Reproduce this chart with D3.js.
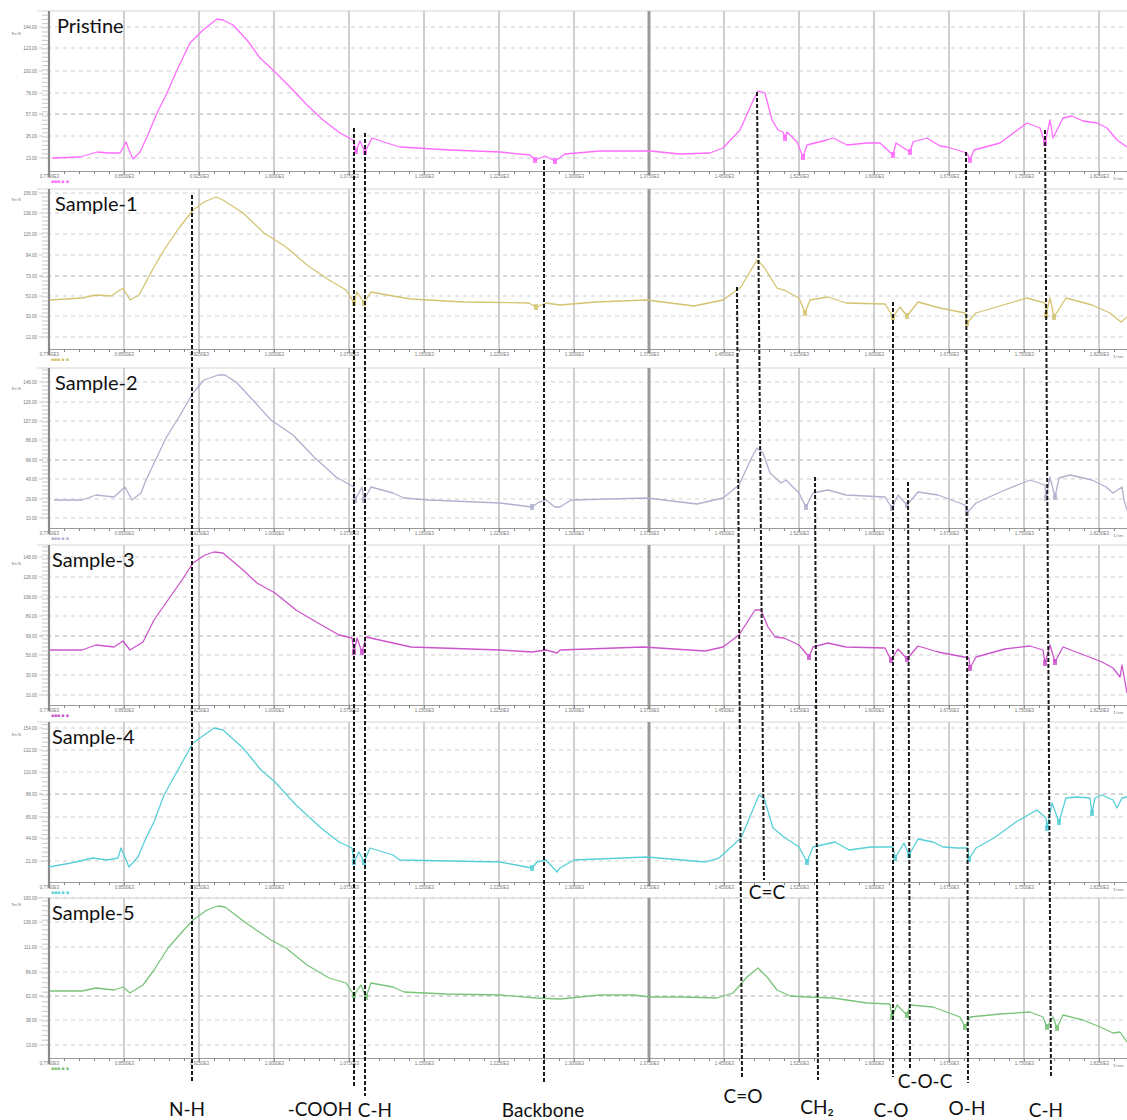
<!DOCTYPE html>
<html>
<head>
<meta charset="utf-8">
<script src="https://cdn.jsdelivr.net/npm/d3@7/dist/d3.min.js"></script>
<style>
  body { margin: 0; background: #fff; }
  svg { display: block; }
</style>
</head>
<body>
<div id="chart"></div>
<script>
// spectra: [channel, signal]
const sampleNames = ['Pristine', 'Sample-1', 'Sample-2', 'Sample-3', 'Sample-4', 'Sample-5'];

const pristine = [[3,13],[31,14],[48,19],[61,18],[71,18],[77,29],[80,21],[84,12],[91,19],[98,34],[108,58],[118,78],[128,101],[141,128],[154,141],[168,152],[174,151],[184,146],[198,131],[211,113],[224,101],[241,84],[258,66],[274,51],[291,38],[304,31],[307,20],[311,30],[316,19],[323,33],[338,28],[351,24],[401,21],[451,19],[481,16],[486,11],[496,15],[506,10],[516,17],[551,20],[601,20],[631,17],[661,18],[674,23],[691,41],[703,68],[709,80],[716,78],[723,51],[729,41],[734,39],[736,33],[738,39],[748,29],[754,14],[758,26],[778,31],[784,33],[798,26],[818,28],[831,28],[844,16],[847,28],[861,19],[864,29],[878,33],[891,25],[898,24],[918,18],[921,11],[925,21],[951,28],[978,48],[991,43],[996,28],[1001,51],[1004,33],[1014,53],[1023,55],[1034,50],[1048,48],[1058,43],[1068,31],[1078,24]];

const sample1 = [[1,49],[33,51],[47,54],[62,53],[74,61],[81,49],[90,54],[105,82],[115,99],[130,121],[144,139],[155,147],[167,152],[174,149],[194,136],[215,116],[237,102],[258,84],[280,69],[297,59],[305,46],[308,57],[315,46],[322,57],[344,53],[362,50],[415,47],[480,46],[487,42],[497,46],[511,44],[547,47],[598,49],[645,43],[674,49],[692,62],[708,89],[715,82],[728,61],[735,59],[750,51],[756,36],[761,49],[779,52],[797,46],[836,45],[844,32],[851,42],[858,33],[869,47],[891,41],[916,36],[918,26],[927,36],[978,51],[996,46],[997,34],[1001,51],[1005,32],[1017,51],[1043,44],[1061,36],[1072,27],[1078,32]];

const sample2 = [[5,28],[33,28],[47,33],[65,31],[76,41],[83,28],[92,35],[97,48],[108,71],[117,90],[130,111],[144,135],[155,148],[169,153],[176,153],[187,146],[201,131],[222,108],[244,93],[265,71],[287,51],[305,41],[306,28],[313,41],[315,28],[322,41],[344,35],[355,30],[380,28],[451,25],[483,21],[490,26],[497,28],[506,21],[511,21],[522,28],[598,30],[648,24],[674,30],[690,43],[703,71],[708,80],[714,75],[721,55],[732,45],[737,48],[750,35],[757,21],[764,35],[779,38],[797,33],[836,31],[843,20],[849,33],[858,23],[869,36],[889,33],[916,23],[918,15],[927,25],[956,38],[981,48],[996,43],[997,30],[1001,51],[1006,31],[1010,50],[1021,53],[1043,48],[1057,41],[1064,35],[1073,41],[1075,28],[1078,18]];

const sample3 = [[1,55],[33,55],[47,60],[65,58],[74,64],[81,55],[94,63],[105,85],[119,105],[133,125],[144,142],[156,150],[165,153],[174,152],[194,135],[208,122],[226,112],[247,95],[269,82],[290,70],[303,67],[305,53],[308,67],[313,53],[317,68],[344,62],[362,58],[451,55],[483,53],[497,55],[508,52],[511,55],[594,58],[656,54],[674,58],[690,70],[706,95],[712,95],[719,78],[726,68],[735,67],[750,60],[760,48],[764,58],[779,62],[797,58],[836,57],[842,45],[849,56],[858,46],[869,59],[889,53],[920,47],[921,37],[927,48],[956,56],[981,59],[994,55],[996,42],[1001,60],[1006,43],[1014,58],[1035,50],[1053,43],[1064,37],[1071,28],[1073,40],[1078,12]];

const sample4 = [[0,15],[22,19],[44,24],[58,22],[69,24],[72,34],[80,15],[89,25],[97,44],[105,60],[115,87],[130,114],[144,139],[158,149],[165,154],[174,152],[194,134],[212,112],[226,100],[247,77],[272,54],[290,40],[303,34],[305,20],[310,30],[315,20],[321,34],[344,27],[351,22],[451,20],[483,14],[488,20],[497,22],[508,10],[511,14],[525,22],[598,25],[656,20],[670,24],[692,44],[710,87],[715,84],[724,54],[735,45],[750,35],[758,20],[764,35],[786,40],[800,32],[822,35],[844,35],[846,24],[855,39],[860,27],[869,43],[884,40],[894,35],[909,34],[919,34],[920,23],[927,34],[945,44],[967,60],[988,72],[997,64],[998,54],[1003,79],[1010,60],[1017,84],[1028,85],[1041,84],[1043,69],[1046,84],[1053,87],[1064,82],[1068,74],[1073,84],[1078,85]];

const sample5 = [[1,67],[33,67],[47,70],[65,68],[74,71],[81,65],[94,73],[105,88],[119,110],[133,126],[144,138],[158,148],[169,152],[176,151],[197,135],[222,118],[237,110],[258,93],[280,80],[297,75],[305,63],[312,73],[317,61],[322,75],[344,71],[355,66],[397,64],[451,63],[487,60],[511,59],[551,63],[584,63],[601,61],[634,61],[668,60],[684,65],[698,81],[709,90],[718,81],[728,68],[741,62],[758,61],[784,60],[818,55],[841,54],[843,41],[848,53],[858,43],[861,53],[884,51],[911,41],[916,31],[921,41],[951,44],[981,46],[994,41],[998,31],[1004,41],[1008,30],[1014,43],[1034,38],[1051,31],[1064,25],[1071,26],[1078,16]];

const spectra = [pristine, sample1, sample2, sample3, sample4, sample5];

// peak-pick markers (channel)
const pristineMarks = [307, 316, 486, 506, 736, 754, 844, 861, 921, 996];
const sample1Marks = [305, 315, 487, 756, 844, 858, 918, 997, 1005];
const sample2Marks = [306, 315, 483, 757, 843, 858, 918, 997, 1006];
const sample3Marks = [305, 313, 760, 842, 858, 921, 996, 1006];
const sample4Marks = [305, 315, 483, 758, 846, 860, 920, 998, 1010, 1043];
const sample5Marks = [305, 317, 843, 858, 916, 998, 1008];
const marks = [pristineMarks, sample1Marks, sample2Marks, sample3Marks, sample4Marks, sample5Marks];

// horizontal grid values per panel
const pristineGrid = [144, 123, 100, 78, 57, 35, 13];
const sample1Grid = [156, 136, 115, 94, 73, 53, 33, 12];
const sample2Grid = [146, 126, 107, 88, 68, 49, 29, 10];
const sample3Grid = [148, 128, 108, 89, 69, 50, 30, 10];
const sample4Grid = [154, 132, 110, 88, 65, 44, 21];
const sample5Grid = [160, 136, 111, 86, 62, 38, 13];
const grids = [pristineGrid, sample1Grid, sample2Grid, sample3Grid, sample4Grid, sample5Grid];
const zeroLines = [57, 73, 68, 69, 88, 62];

const xTicks = d3.range(0, 1078, 75);

// band assignments: label, channel top/bottom, panel where line starts + signal, end below last panel
const bandLabels = ['N-H', '-COOH', 'C-H', 'Backbone', 'C=O', 'C=C', 'CH₂', 'C-O', 'C-O-C', 'O-H', 'C-H'];
const bandTopX = [143, 305, 316, 495, 688, 708, 766, 844, 859, 917, 996];
const bandBottomX = [143, 305, 316, 495, 693, 715, 769, 844, 861, 919, 1002];
const bandStartPanel = [1, 0, 0, 0, 1, 0, 2, 1, 2, 0, 0];
const bandStartValue = [154, 43, 38, 11, 62, 79, 51, 47, 46, 19, 41];
const bandEndPanel = [5, 5, 5, 5, 5, 4, 5, 5, 5, 5, 5];
const bandEndValue = [-24, -30, -38, -25, -20, 2, -22, -19, -12, -25, -20];
const bandLabelX = [138, 271, 326, 494, 694, 718, 768, 842, 876, 918, 997];
const bandLabelValue = [-58, -58, -59, -59, -45, -17, -56, -59, -30, -57, -59];

// ---- layout & style
const W = 1127, H = 1120;
const colors = ['#ff6bff', '#d4c472', '#b0b0cf', '#cc55cc', '#58cfd8', '#7ac47a'];
const axisY = [171, 349, 528, 705, 882, 1058];
const panelH = 160;
const left = 49;
const font = 'Lato, "Open Sans", sans-serif';

const x = d3.scaleLinear().domain([0, 1078]).range([left, W]);
const yFor = i => d3.scaleLinear().domain([0, panelH]).range([axisY[i], axisY[i] - panelH]);

const svg = d3.select('#chart').append('svg')
  .attr('width', W).attr('height', H)
  .style('font-family', font);

svg.append('rect').attr('width', W).attr('height', H).attr('fill', '#fff');

function valueAt(data, xv) {
  const i = d3.bisector(d => d[0]).left(data, xv);
  if (i <= 0) return data[0][1];
  if (i >= data.length) return data[data.length - 1][1];
  const a = data[i - 1], b = data[i];
  const t = (xv - a[0]) / (b[0] - a[0] || 1);
  return a[1] + t * (b[1] - a[1]);
}

spectra.forEach((data, i) => {
  const y = yFor(i);
  const g = svg.append('g').attr('class', 'panel');
  const top = y(panelH);

  // top border
  g.append('line').attr('x1', left - 12).attr('x2', W)
    .attr('y1', top).attr('y2', top)
    .attr('stroke', '#d6d6d6').attr('stroke-width', 1.2);

  // horizontal dashed grid
  g.selectAll('.hgrid').data(grids[i]).enter().append('line')
    .attr('x1', left - 10).attr('x2', W)
    .attr('y1', d => y(d)).attr('y2', d => y(d))
    .attr('stroke', d => d === zeroLines[i] ? '#a8a8a8' : '#cfcfcf')
    .attr('stroke-width', 1)
    .attr('stroke-dasharray', '4,4');

  // vertical grid
  g.selectAll('.vgrid').data(xTicks.slice(1)).enter().append('line')
    .attr('x1', d => x(d)).attr('x2', d => x(d))
    .attr('y1', top).attr('y2', y(0) + 4)
    .attr('stroke', (d, k) => k === 7 ? '#9a9a9a' : '#c4c4c4')
    .attr('stroke-width', (d, k) => k === 7 ? 3 : 1.6);

  // bottom axis
  const xAxis = d3.axisBottom(x)
    .tickValues(d3.range(0, 1078, 15))
    .tickSize(3)
    .tickFormat(d => d % 75 === 0 ? d3.format('.4f')(d / 1000 + 0.775) + 'E3' : '');
  const ax = g.append('g').attr('transform', `translate(0,${y(0)})`).call(xAxis);
  ax.select('.domain').attr('stroke', '#9a9a9a').attr('stroke-width', 1.2);
  ax.selectAll('.tick line').attr('stroke', '#888');
  ax.selectAll('.tick text').attr('font-size', 4.5).attr('fill', '#777').attr('dy', '0.3em');

  // left axis
  const yAxis = d3.axisLeft(y)
    .tickValues(grids[i])
    .tickSize(0)
    .tickPadding(12)
    .tickFormat(d3.format('.2f'));
  const ay = g.append('g').attr('transform', `translate(${left},0)`).call(yAxis);
  ay.select('.domain').remove();
  ay.selectAll('.tick text').attr('font-size', 4.5).attr('fill', '#777');

  const step = (grids[i][0] - grids[i][1]) / 5;
  g.selectAll('.ymin').data(d3.range(grids[i][grids[i].length - 1], panelH, step)).enter().append('line')
    .attr('x1', left - 7).attr('x2', left)
    .attr('y1', d => y(d)).attr('y2', d => y(d))
    .attr('stroke', '#bbb').attr('stroke-width', 0.8);

  g.append('line').attr('x1', left).attr('x2', left)
    .attr('y1', top).attr('y2', y(0) + 6)
    .attr('stroke', '#8a8a8a').attr('stroke-width', 2.2);

  // small axis captions
  g.append('text').attr('x', 21).attr('y', y(grids[i][0]) + 8)
    .attr('text-anchor', 'end').attr('font-size', 4).attr('fill', '#777').text('Trn %');
  g.append('text').attr('x', left + 2).attr('y', y(0) + 12)
    .attr('font-size', 5).attr('fill', colors[i]).text('■■■ ■ ■');
  g.append('text').attr('x', W - 14).attr('y', y(0) + 9)
    .attr('font-size', 4.5).attr('fill', '#777').text('1/cm');

  // spectrum
  const line = d3.line().x(d => x(d[0])).y(d => y(d[1]));
  g.append('path').datum(data)
    .attr('d', line)
    .attr('fill', 'none')
    .attr('stroke', colors[i])
    .attr('stroke-width', 1.3)
    .attr('stroke-linejoin', 'round');

  g.selectAll('.mark').data(marks[i]).enter().append('rect')
    .attr('x', d => x(d) - 2)
    .attr('y', d => y(valueAt(data, d)) - 3)
    .attr('width', 4).attr('height', 6)
    .attr('fill', colors[i]).attr('opacity', 0.85);

  // title
  g.append('text')
    .attr('x', left + 8 - (i >= 3 ? 5 : i > 0 ? 2 : 0))
    .attr('y', top + 22)
    .attr('font-size', 20)
    .attr('fill', '#111')
    .text(sampleNames[i]);
});

// band annotation lines
const bands = bandLabels.map((label, k) => ({
  label,
  x1: bandTopX[k], x2: bandBottomX[k],
  y1: yFor(bandStartPanel[k])(bandStartValue[k]),
  y2: yFor(bandEndPanel[k])(bandEndValue[k]),
  lx: bandLabelX[k],
  ly: yFor(bandEndPanel[k] === 4 ? 4 : 5)(bandLabelValue[k])
}));

const ann = svg.append('g').attr('class', 'bands');
ann.selectAll('line').data(bands).enter().append('line')
  .attr('x1', d => x(d.x1)).attr('x2', d => x(d.x2))
  .attr('y1', d => d.y1).attr('y2', d => d.y2)
  .attr('stroke', '#1a1a1a')
  .attr('stroke-width', 2)
  .attr('stroke-dasharray', '4,2');

ann.selectAll('text').data(bands).enter().append('text')
  .attr('x', d => x(d.lx))
  .attr('y', d => d.ly)
  .attr('text-anchor', 'middle')
  .attr('font-size', 19)
  .attr('fill', '#111')
  .text(d => d.label);
</script>
</body>
</html>
